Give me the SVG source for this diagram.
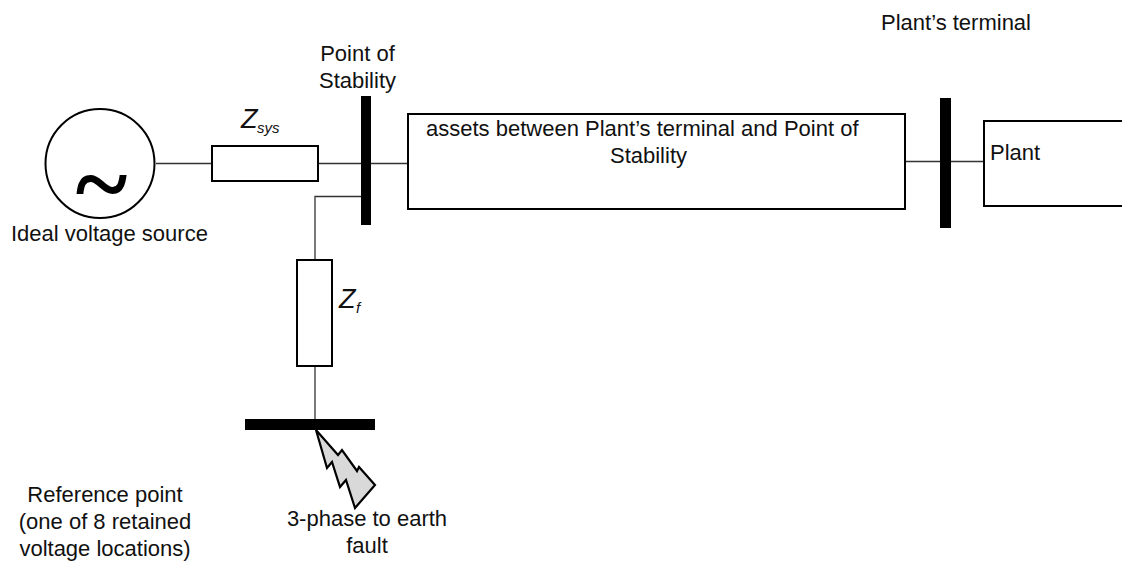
<svg xmlns="http://www.w3.org/2000/svg" width="1122" height="562" viewBox="0 0 1122 562">
<style>
text{font-family:"Liberation Sans",Arial,sans-serif;font-size:22px;fill:#111}
.m{text-anchor:middle}
.z{font-size:27px;font-style:italic}
.s{font-size:15px;font-style:italic}
.box{fill:#fff;stroke:#000;stroke-width:2}
.bar{fill:#000}
.w{fill:none;stroke:#333;stroke-width:1.3}
</style>
<rect width="1122" height="562" fill="#fff"/>
<g id="connectors">
<path class="w" d="M156 163.500H212"/>
<path class="w" d="M318 163.500H408"/>
<path class="w" d="M905 161.500H984"/>
<path class="w" d="M362 196.500H315V260"/>
<path class="w" d="M315 366V419"/>
</g>
<g id="source"><circle cx="100" cy="163.500" r="54.500" fill="#fff" stroke="#000" stroke-width="2"/>
<text x="101.500" y="217" class="m" style="font-size:99px;font-weight:bold;font-family:'Liberation Serif',serif;fill:#000">~</text>
<text x="11" y="241">Ideal voltage source</text></g>
<g id="zsys"><rect class="box" x="212" y="146" width="106" height="35"/>
<text x="241" y="128" class="z">Z</text><text x="257" y="133" class="s">sys</text></g>
<g id="point-of-stability"><rect class="bar" x="361" y="96" width="10" height="129"/>
<text x="357.500" y="61" class="m">Point of</text><text x="357.500" y="88" class="m">Stability</text></g>
<g id="assets"><rect class="box" x="408" y="114" width="497" height="95"/>
<text x="426" y="136">assets between Plant’s terminal and Point of</text>
<text x="648.500" y="163" class="m">Stability</text></g>
<g id="plant-terminal"><rect class="bar" x="940" y="98" width="11" height="130"/>
<text x="1031" y="30" text-anchor="end">Plant’s terminal</text></g>
<g id="plant"><path fill="#fff" stroke="#000" stroke-width="2" d="M1122 121H984V206H1122"/>
<text x="990" y="160">Plant</text></g>
<g id="zf"><rect class="box" x="297" y="260" width="35" height="106"/>
<text x="339" y="308" class="z">Z</text><text x="356" y="313" class="s">f</text></g>
<g id="reference-point"><rect class="bar" x="245" y="419" width="130" height="11"/>
<text x="105" y="502" class="m">Reference point</text>
<text x="105" y="529" class="m">(one of 8 retained</text>
<text x="105" y="556" class="m">voltage locations)</text></g>
<g id="fault"><path fill="#d9d9d9" stroke="#000" stroke-width="2.200" stroke-linejoin="miter" d="M316 430L338 455L342 450L357 471L359 467L375 485L355 508L346 480L340 487L332 462L327 468Z"/>
<text x="367" y="526" class="m">3-phase to earth</text><text x="367" y="553" class="m">fault</text></g>
</svg>
